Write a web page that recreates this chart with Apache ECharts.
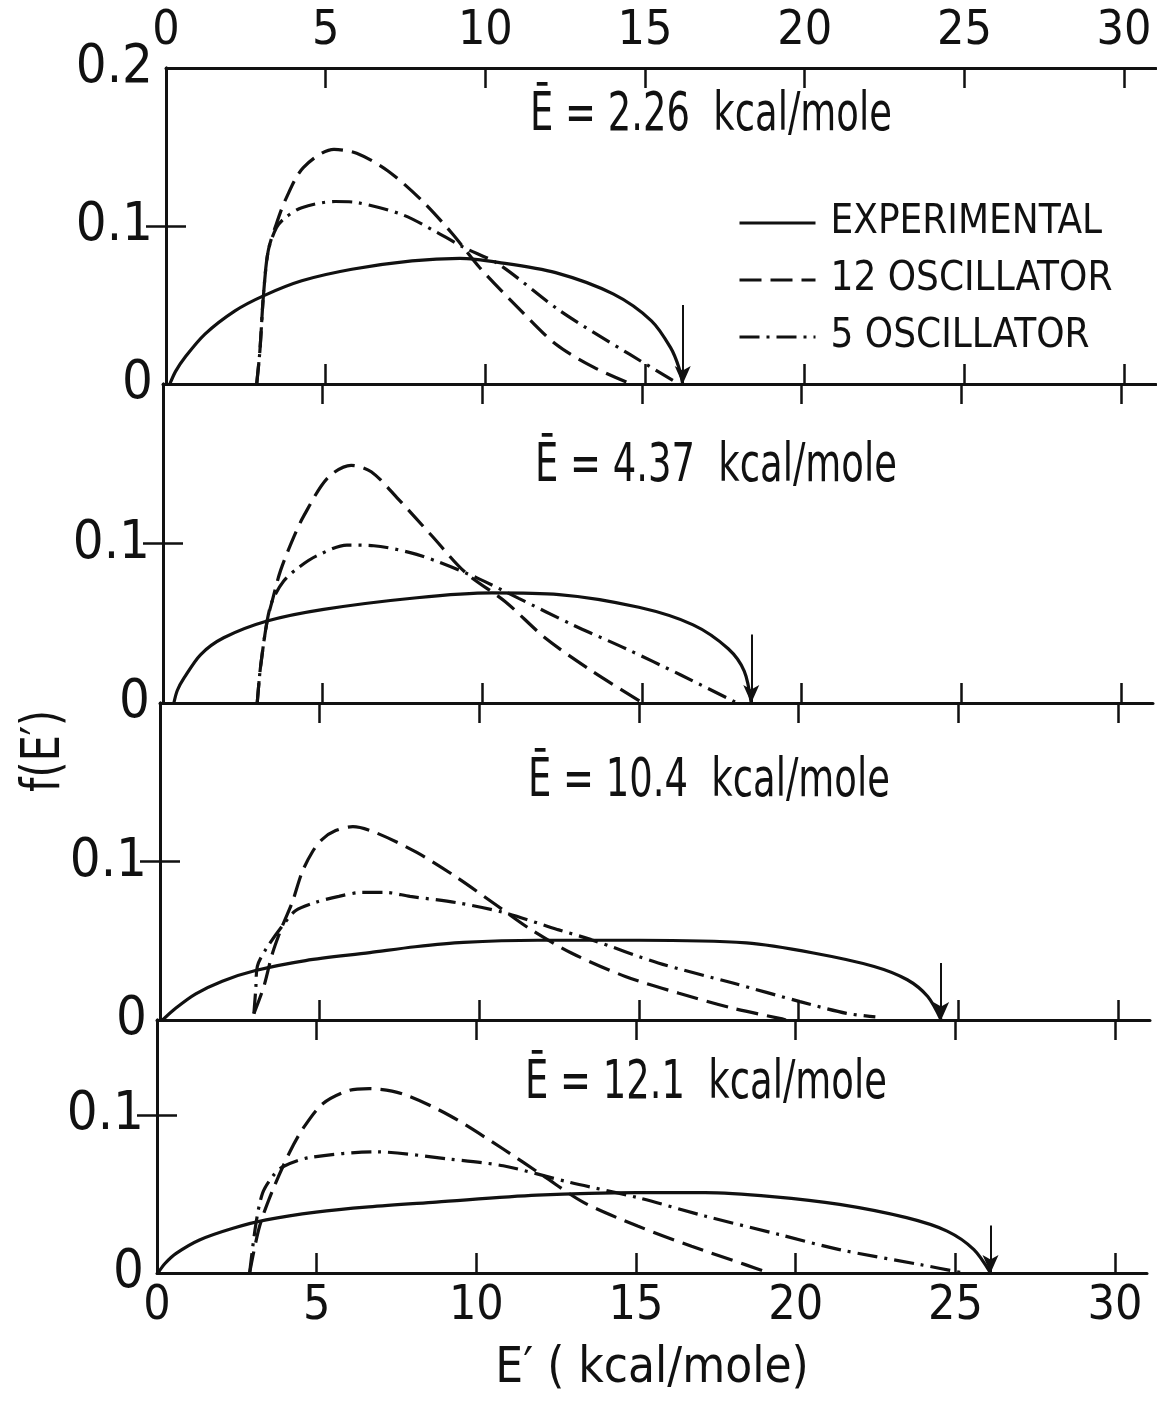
<!DOCTYPE html>
<html><head><meta charset="utf-8">
<script src="https://cdn.jsdelivr.net/npm/echarts@6/dist/echarts.min.js"></script>
<style>html,body{margin:0;padding:0;background:#fff}#c{width:1157px;height:1414px}</style>
</head><body><div id="c"></div>
<script>
// ---------- data ----------
const xTickLabels = [0, 5, 10, 15, 20, 25, 30];
const xTickMarks = [5, 10, 15, 20, 25, 30];
const seriesNames = ['EXPERIMENTAL', '12 OSCILLATOR', '5 OSCILLATOR'];
const panelTitles = ['Ē = 2.26  kcal/mole', 'Ē = 4.37  kcal/mole', 'Ē = 10.4  kcal/mole', 'Ē = 12.1  kcal/mole'];
const panelYMax = [0.2, 0.2, 0.2, 0.16];
const panelYLabels = [[0, 0.1, 0.2], [0, 0.1], [0, 0.1], [0, 0.1]];
const yTickMarks = [0.1];

const p1Experimental = [[0.12,0],[0.3,0.008],[0.59,0.0168],[1.22,0.0316],[2.16,0.0463],[3.05,0.0558],[4.25,0.0653],[5.82,0.0726],[7.7,0.0779],[9.2,0.0795],[10.4,0.077],[12.2,0.0705],[14.0,0.057],[15.2,0.040],[15.8,0.023],[16.06,0.0105],[16.18,0]];
const p1Osc12 = [[2.84,0],[2.94,0.021],[3.05,0.0558],[3.2,0.0842],[3.45,0.101],[3.75,0.117],[4.3,0.137],[5.26,0.1485],[5.97,0.146],[6.94,0.135],[8.02,0.116],[8.98,0.0948],[9.82,0.0737],[11.02,0.0484],[12.2,0.0253],[13.4,0.0105],[14.56,0]];
const p1Osc5 = [[2.84,0],[2.94,0.021],[3.05,0.0558],[3.2,0.0842],[3.46,0.099],[3.72,0.105],[4.25,0.1116],[5.3,0.1155],[6.02,0.1147],[7.42,0.107],[8.5,0.0958],[9.34,0.0863],[10.42,0.0758],[12.34,0.0463],[14.5,0.019],[16.06,0]];

const p2Experimental = [[0.34,0],[0.45,0.008],[0.66,0.0157],[1.18,0.0304],[1.9,0.0409],[3.26,0.0514],[5.03,0.0587],[7.95,0.066],[10.3,0.069],[12.4,0.068],[14.9,0.060],[16.6,0.049],[17.7,0.034],[18.2,0.020],[18.42,0]];
const p2Osc12 = [[2.95,0],[3.05,0.022],[3.26,0.0514],[3.42,0.064],[3.68,0.083],[4.09,0.1038],[4.4,0.117],[5.15,0.141],[5.89,0.149],[6.52,0.145],[7.36,0.128],[8.41,0.105],[9.46,0.082],[10.72,0.0635],[11.98,0.0406],[13.45,0.0198],[15.03,0]];
const p2Osc5 = [[2.95,0],[3.05,0.022],[3.26,0.0514],[3.42,0.064],[3.78,0.0765],[4.25,0.085],[4.82,0.0923],[5.76,0.099],[6.6,0.0986],[7.74,0.0943],[8.62,0.0885],[9.88,0.078],[11.14,0.0656],[12.83,0.049],[14.5,0.034],[16.2,0.0177],[17.98,0]];

const p3Experimental = [[0.08,0],[0.49,0.0074],[1.12,0.0165],[1.95,0.0245],[2.99,0.0312],[4.56,0.0375],[6.57,0.0425],[7.99,0.0462],[9.5,0.049],[11.83,0.0503],[15.0,0.0503],[18.36,0.0486],[20.46,0.0423],[22.36,0.0338],[23.4,0.0254],[24.04,0.0148],[24.46,0]];
const p3Osc12 = [[2.94,0.004],[3.25,0.021],[3.52,0.042],[3.83,0.0593],[4.14,0.0742],[4.45,0.0933],[4.77,0.106],[5.08,0.114],[5.5,0.1195],[6.04,0.122],[6.78,0.118],[8.04,0.1057],[9.3,0.0899],[10.57,0.0719],[11.62,0.057],[12.88,0.0423],[14.57,0.0275],[16.25,0.0169],[17.94,0.0074],[19.4,0.001],[19.6,0]];
const p3Osc5 = [[2.94,0.004],[3.0,0.02],[3.05,0.034],[3.31,0.0445],[3.83,0.0593],[4.24,0.0689],[4.87,0.0742],[5.6,0.078],[6.33,0.0805],[7.05,0.0805],[7.83,0.078],[9.3,0.074],[10.78,0.0677],[12.46,0.057],[13.5,0.0507],[15.6,0.036],[17.94,0.0233],[20.04,0.0116],[21.5,0.0042],[22.4,0.002]];

const p4Experimental = [[0.03,0],[0.25,0.006],[0.6,0.0124],[1.33,0.0209],[2.38,0.0283],[3.42,0.0336],[4.98,0.0385],[6.63,0.0418],[8.74,0.0448],[11.9,0.0492],[15.05,0.0508],[17.16,0.0508],[19.26,0.0483],[21.37,0.0434],[23.47,0.035],[24.74,0.0265],[25.58,0.0148],[26.1,0]];
const p4Osc12 = [[2.9,0],[3.21,0.0294],[3.63,0.0528],[4.15,0.0762],[4.56,0.091],[5.19,0.107],[6.02,0.1155],[6.65,0.1166],[7.68,0.1133],[9.16,0.0996],[10.84,0.0784],[12.1,0.0614],[13.37,0.0445],[15.05,0.0297],[16.74,0.0169],[18.42,0.0053],[19.16,0]];
const p4Osc5 = [[2.9,0],[3.1,0.0315],[3.31,0.0507],[3.63,0.0613],[3.94,0.0672],[4.77,0.073],[6.86,0.0766],[9.16,0.072],[10.84,0.0678],[12.95,0.0572],[15.05,0.0477],[17.16,0.036],[19.47,0.0244],[21.37,0.0148],[23.9,0.0053],[25.26,0]];

// arrows: [E', f at top of arrow]
const arrowMarks = [[16.18, 0.05], [18.42, 0.043], [24.46, 0.036], [26.1, 0.030]];

const panelData = [
  [p1Experimental, p1Osc12, p1Osc5],
  [p2Experimental, p2Osc12, p2Osc5],
  [p3Experimental, p3Osc12, p3Osc5],
  [p4Experimental, p4Osc12, p4Osc5]
];

// ---------- layout / style ----------
const FONT = '"Liberation Sans Narrow","DejaVu Sans Condensed","Roboto Condensed","Arial Narrow",sans-serif';
const INK = '#111';
const gridLeft = [166, 163, 160, 157];
const gridTop = [68, 384, 703, 1020];
const gridHeight = [316, 319, 317, 253];
const titlePos = [[530, 89], [535, 440], [528, 755], [525, 1057]];
const lineTypes = ['solid', [22, 9], [20, 7, 3, 7]];

const grids = [], xAxes = [], yAxes = [], series = [], graphics = [];
for (let i = 0; i < 4; i++) {
  grids.push({left: gridLeft[i], top: gridTop[i], width: 990, height: gridHeight[i]});
  const common = {
    type: 'value', gridIndex: i, min: 0, max: 31, interval: 5,
    axisLine: {show: true, onZero: false, lineStyle: {color: INK, width: 3}},
    axisTick: {show: true, inside: true, length: 20, customValues: xTickMarks, lineStyle: {color: INK, width: 2.5}},
    splitLine: {show: false}
  };
  xAxes.push(Object.assign({}, common, {
    position: 'bottom',
    axisLabel: {show: i === 3, color: INK, fontFamily: FONT, fontSize: 48, margin: 10, customValues: xTickLabels},
    name: i === 3 ? 'E′ ( kcal/mole)' : '',
    nameLocation: 'middle', nameGap: 72,
    nameTextStyle: {color: INK, fontFamily: FONT, fontSize: 49}
  }));
  xAxes.push(Object.assign({}, common, {
    position: 'top',
    axisLabel: {show: i === 0, color: INK, fontFamily: FONT, fontSize: 48, margin: 12, customValues: xTickLabels}
  }));
  const ycommon = {
    type: 'value', gridIndex: i, min: 0, max: panelYMax[i], interval: 0.1,
    axisLine: {show: true, lineStyle: {color: INK, width: 3}},
    axisTick: {show: true, inside: true, length: 20, customValues: yTickMarks, lineStyle: {color: INK, width: 2.5}},
    splitLine: {show: false}
  };
  yAxes.push(Object.assign({}, ycommon, {
    position: 'left',
    axisLabel: {show: true, color: INK, fontFamily: FONT, fontSize: 54, margin: 13,
      customValues: panelYLabels[i],
      formatter: v => (Math.abs(v) < 1e-9 ? '0' : v.toFixed(1))}
  }));
  yAxes.push(Object.assign({}, ycommon, {position: 'right', axisLabel: {show: false}}));

  graphics.push({
    type: 'text', x: titlePos[i][0], y: titlePos[i][1], scaleX: 0.76,
    style: {text: panelTitles[i], fill: INK, font: '54px ' + FONT}
  });

  for (let s = 0; s < 3; s++) {
    const ser = {
      type: 'line', name: seriesNames[s], xAxisIndex: 2 * i, yAxisIndex: 2 * i,
      data: panelData[i][s], showSymbol: false, symbol: 'none', smooth: 0.3,
      lineStyle: {color: INK, width: 3.2, type: lineTypes[s]},
      itemStyle: {color: INK}, silent: true, z: 3
    };
    if (s === 0) {
      ser.markLine = {
        silent: true, symbol: ['none', 'arrow'], symbolSize: [12, 18],
        label: {show: false},
        lineStyle: {color: INK, width: 2, type: 'solid'},
        data: [[{coord: [arrowMarks[i][0], arrowMarks[i][1]]}, {coord: [arrowMarks[i][0], 0]}]]
      };
    }
    series.push(ser);
  }
}

graphics.push({
  type: 'text', x: 18, y: 792, rotation: Math.PI / 2, scaleX: 0.85,
  style: {text: 'f(E′)', fill: INK, font: '54px ' + FONT}
});

const chart = echarts.init(document.getElementById('c'), null, {renderer: 'canvas'});
chart.setOption({
  backgroundColor: '#fff',
  animation: false,
  grid: grids,
  xAxis: xAxes,
  yAxis: yAxes,
  legend: {
    data: seriesNames, orient: 'vertical', left: 733, top: 198,
    itemWidth: 76, itemHeight: 14, itemGap: 17,
    itemStyle: {color: 'rgba(0,0,0,0)', borderColor: 'rgba(0,0,0,0)', borderWidth: 0, opacity: 0},
    lineStyle: {width: 3, color: INK},
    textStyle: {color: INK, fontFamily: FONT, fontSize: 40, padding: [0, 0, 0, 10]},
    inactiveColor: INK, selectedMode: false
  },
  graphic: graphics,
  series: series
});
</script></body></html>
